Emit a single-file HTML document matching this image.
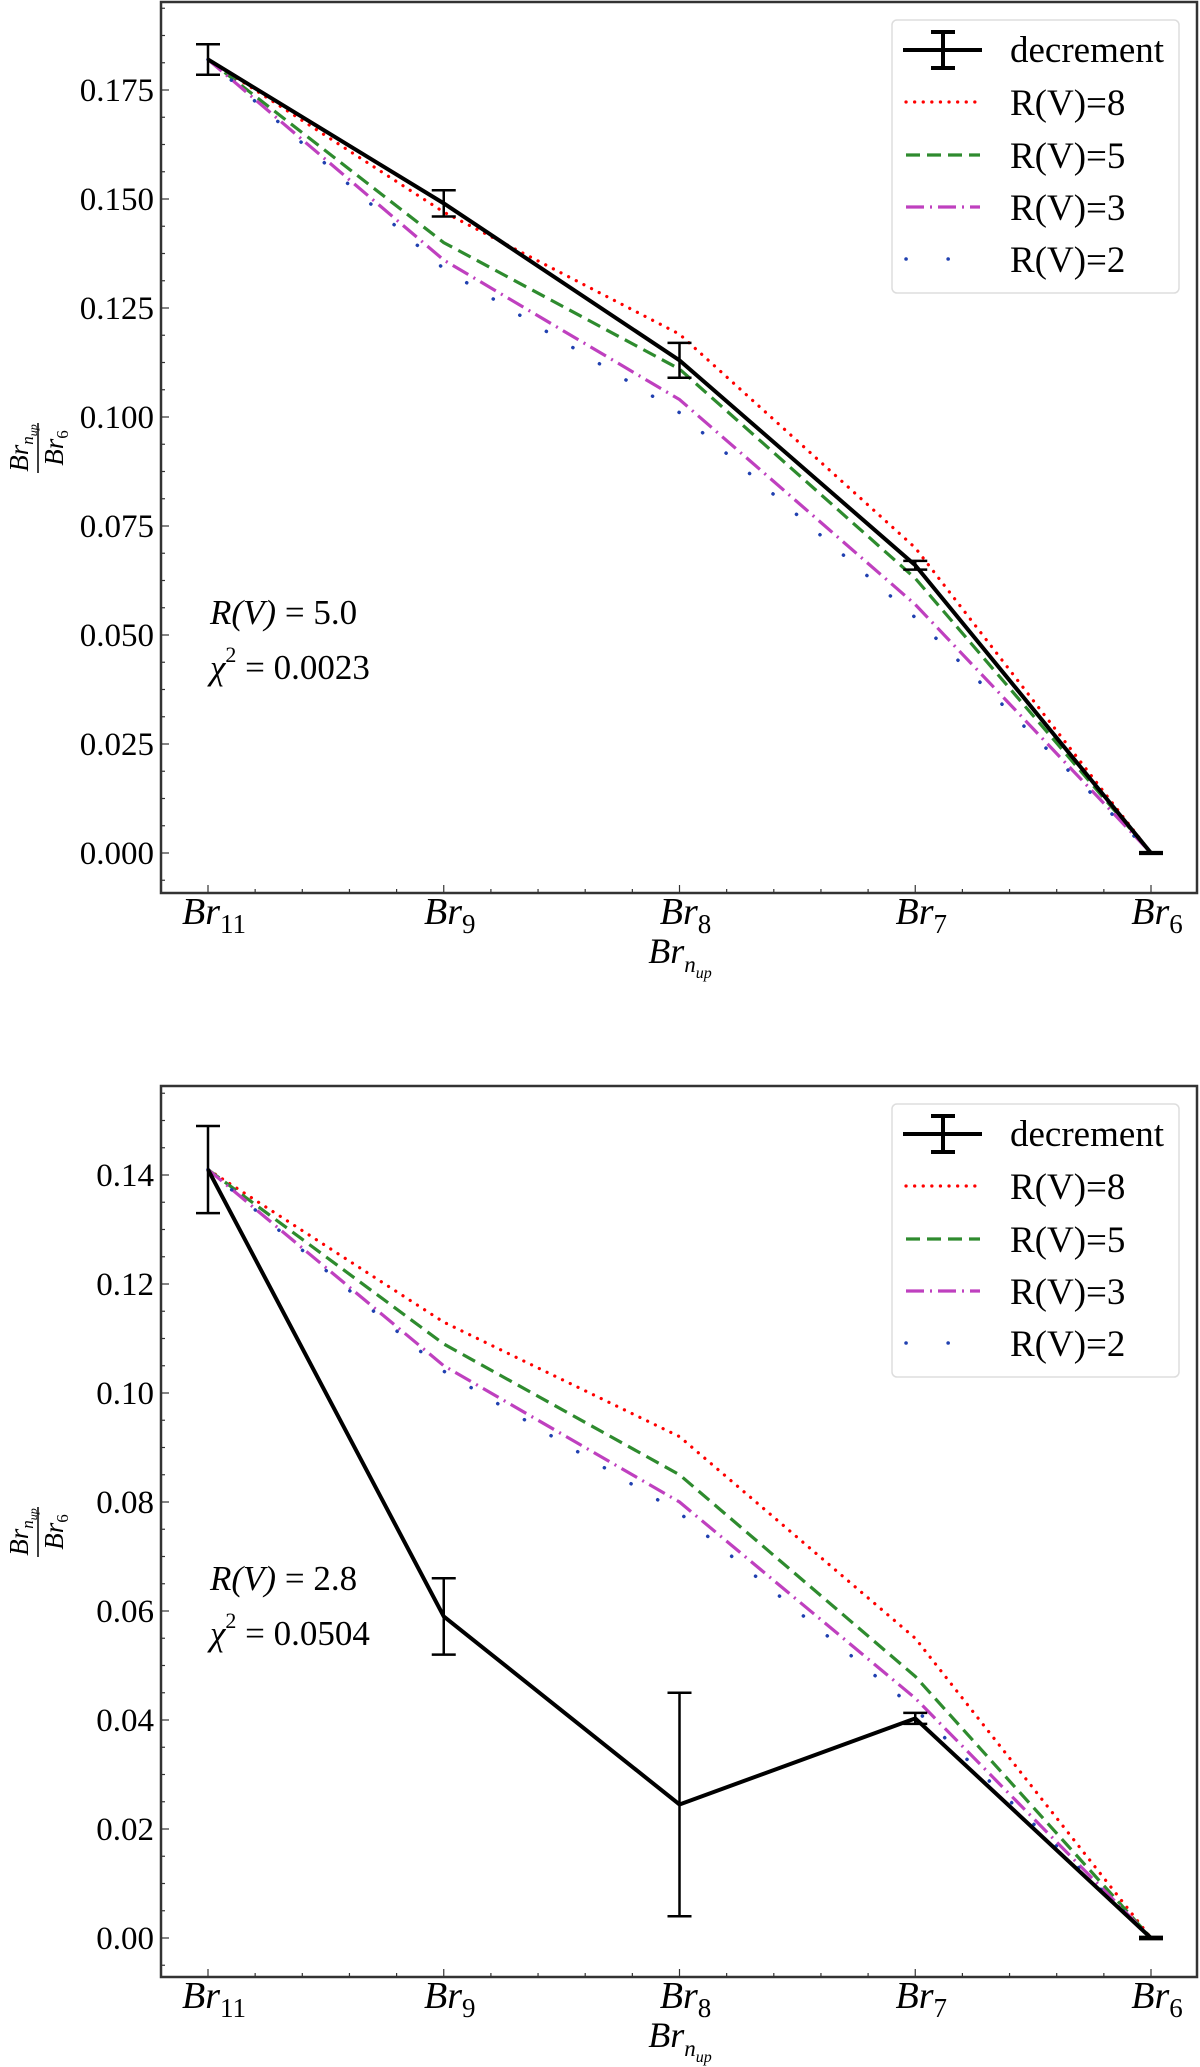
<!DOCTYPE html>
<html><head><meta charset="utf-8"><style>
body{margin:0;background:#fff}
svg{display:block}
text{font-family:"Liberation Serif",serif;fill:#000}
</style></head><body>
<svg id="fig" width="1200" height="2067" viewBox="0 0 1200 2067" xmlns="http://www.w3.org/2000/svg"></svg>
<script>
const categories = ["11","9","8","7","6"];
const legendLabels = ["R(V)=8","R(V)=5","R(V)=3","R(V)=2"];
// top panel
const topDecrement = [0.182, 0.149, 0.113, 0.066, 0.0];
const topDecErr = [0.0035, 0.003, 0.004, 0.001, 0.0002];
const topRV8 = [0.182, 0.147, 0.119, 0.070, 0.0];
const topRV5 = [0.182, 0.140, 0.111, 0.063, 0.0];
const topRV3 = [0.182, 0.136, 0.104, 0.057, 0.0];
const topRV2 = [0.182, 0.134, 0.101, 0.054, 0.0];
const topTicks = [0, 0.025, 0.05, 0.075, 0.1, 0.125, 0.15, 0.175];
const topTickLabels = ["0.000","0.025","0.050","0.075","0.100","0.125","0.150","0.175"];
// bottom panel
const botDecrement = [0.141, 0.059, 0.0245, 0.0403, 0.0];
const botDecErr = [0.008, 0.007, 0.0205, 0.001, 0.0002];
const botRV8 = [0.141, 0.113, 0.092, 0.055, 0.0];
const botRV5 = [0.141, 0.109, 0.085, 0.048, 0.0];
const botRV3 = [0.141, 0.105, 0.080, 0.044, 0.0];
const botRV2 = [0.141, 0.104, 0.078, 0.042, 0.0];
const botTicks = [0, 0.02, 0.04, 0.06, 0.08, 0.1, 0.12, 0.14];
const botTickLabels = ["0.00","0.02","0.04","0.06","0.08","0.10","0.12","0.14"];

const NS="http://www.w3.org/2000/svg";
const svg=document.getElementById('fig');
function mk(tag,attrs,parent){const e=document.createElementNS(NS,tag);for(const k in attrs)e.setAttribute(k,attrs[k]);(parent||svg).appendChild(e);return e;}

function panel(p){
  const g=mk('g',{});
  
  
  const L=161,R=1197,T=p.top,B=p.top+891;
  const x0=208,dx=235.75;
  const xs=i=>x0+i*dx;
  const ys=v=>p.y0+(v-p.v0)*(p.y1-p.y0)/(p.v1-p.v0);
  const step=p.ticks[1]-p.ticks[0];
  for(let v=p.ticks[0]-step;v<=p.ticks[p.ticks.length-1]+step*1.01;v+=step/4){
    const y=ys(v); if(y<T+2||y>B-2) continue;
    const major=Math.abs(Math.round(v/step)*step-v)<1e-9;
    const t=mk('line',{x1:L,x2:L+(major?8:4),y1:y,y2:y,stroke:'#333','stroke-width':1.2},g);
    
    
  }
  p.ticks.forEach((v,i)=>{
    const t=mk('text',{x:154,y:ys(v)+11,'font-size':33,'text-anchor':'end'},g);
    t.textContent=p.tickLabels[i];
    
    
  });
  for(let i=0;i<categories.length;i++){
    for(let j=0;j<5;j++){
      const x=xs(i)+j*dx/5; if(x>R-2) continue;
      const t=mk('line',{x1:x,x2:x,y1:B,y2:B-(j==0?8:4),stroke:'#333','stroke-width':1.2},g);
      
      
    }
    const lab=mk('text',{x:xs(i)+6,y:B+31,'font-size':38,'text-anchor':'middle','font-style':'italic'},g);
    lab.innerHTML='Br<tspan font-size="27" dy="9" font-style="normal">'+categories[i]+'</tspan>';
    
    
  }
  const xl=mk('text',{x:680,y:B+70,'font-size':36,'text-anchor':'middle','font-style':'italic'},g);
  xl.innerHTML='Br<tspan font-size="23" dy="9">n</tspan><tspan font-size="16" dy="6">up</tspan>';
  
  
  const cy=p.top+446;
  const yt=mk('g',{transform:'translate(38,'+cy+') rotate(-90)'},g);
  
  
  const num=mk('text',{x:0,y:-10,'font-size':27,'text-anchor':'middle','font-style':'italic'},yt);
  num.innerHTML='Br<tspan font-size="17" dy="5">n</tspan><tspan font-size="12" dy="4">up</tspan>';
  mk('line',{x1:-25,x2:25,y1:0,y2:0,stroke:'#000','stroke-width':1.5},yt);
  const den=mk('text',{x:0,y:25,'font-size':27,'text-anchor':'middle','font-style':'italic'},yt);
  den.innerHTML='Br<tspan font-size="17" dy="5" font-style="normal">6</tspan>';
  const styles=[
    {c:'#ff0000',w:3.2,d:'0.1 8.5',cap:'round'},
    {c:'#2e8b2e',w:3.2,d:'14 7',cap:'butt'},
    {c:'#bf40bf',w:3.2,d:'18 6 2 6',cap:'butt'},
    {c:'#2040b0',w:3.5,d:'0.1 31',cap:'round'}
  ];
  p.models.forEach((arr,k)=>{
    const s=styles[k];
    const pl=mk('polyline',{points:arr.map((v,i)=>xs(i)+','+ys(v)).join(' '),fill:'none',stroke:s.c,'stroke-width':s.w,'stroke-dasharray':s.d,'stroke-linecap':s.cap},g);
    
    
  });
  const dl=mk('polyline',{points:p.dec.map((v,i)=>xs(i)+','+ys(v)).join(' '),fill:'none',stroke:'#000','stroke-width':4,'stroke-linejoin':'miter'},g);
  
  
  p.dec.forEach((v,i)=>{
    const x=xs(i),a=ys(v+p.err[i]),b=ys(v-p.err[i]);
    const eb=mk('path',{d:`M${x},${a}V${b}M${x-12},${a}H${x+12}M${x-12},${b}H${x+12}`,stroke:'#000','stroke-width':2.5,fill:'none'},g);
    
    
  });
  const fr=mk('rect',{x:L,y:T,width:R-L,height:B-T,fill:'none',stroke:'#333','stroke-width':2.5},g);
  
  
  const an=mk('g',{},g);
  
  
  const a1=mk('text',{x:210,y:p.annY,'font-size':35,'font-style':'italic'},an);
  a1.innerHTML='R(V)<tspan font-style="normal"> = '+p.rv+'</tspan>';
  const a2=mk('text',{x:210,y:p.annY+55,'font-size':35},an);
  a2.innerHTML='<tspan font-style="italic">χ</tspan><tspan font-size="22" dy="-17">2</tspan><tspan dy="17"> = '+p.chi+'</tspan>';
  const lg=mk('g',{},g);
  
  
  mk('rect',{x:892,y:T+18,width:287,height:273,rx:5,fill:'#fff',stroke:'#ddd','stroke-width':1.5},lg);
  const rows=[T+48,T+100,T+153,T+205,T+257];
  const le=mk('path',{d:`M903,${rows[0]}H982M943,${rows[0]-18}V${rows[0]+18}M931,${rows[0]-18}H955M931,${rows[0]+18}H955`,stroke:'#000','stroke-width':4,fill:'none'},lg);
  
  
  const t0=mk('text',{x:1010,y:rows[0]+12,'font-size':37},lg);t0.textContent='decrement';
  styles.forEach((s,k)=>{
    const y=rows[k+1];
    const ln=mk('line',{x1:906,x2:980,y1:y,y2:y,stroke:s.c,'stroke-width':s.w,'stroke-dasharray':k==3?'0.1 42':s.d,'stroke-linecap':s.cap},lg);
    
    
    const tt=mk('text',{x:1010,y:y+13,'font-size':37},lg);tt.textContent=legendLabels[k];
  });
}

panel({name:'top-panel',top:2,v0:0,v1:0.175,y0:853,y1:90,ticks:topTicks,tickLabels:topTickLabels,
  dec:topDecrement,err:topDecErr,models:[topRV8,topRV5,topRV3,topRV2],annY:624,rv:'5.0',chi:'0.0023'});
panel({name:'bottom-panel',top:1086,v0:0,v1:0.14,y0:1938,y1:1175,ticks:botTicks,tickLabels:botTickLabels,
  dec:botDecrement,err:botDecErr,models:[botRV8,botRV5,botRV3,botRV2],annY:1590,rv:'2.8',chi:'0.0504'});
</script>
</body></html>
